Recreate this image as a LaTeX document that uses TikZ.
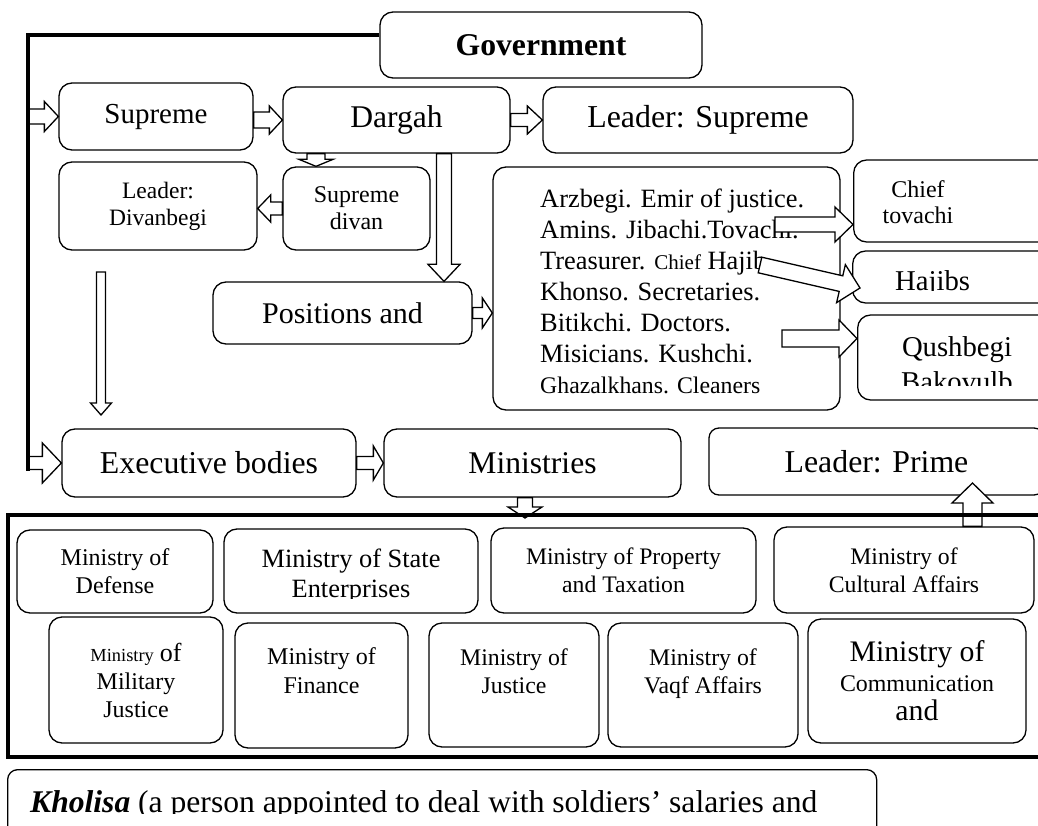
\documentclass[tikz,border=0pt]{standalone}
\usepackage{fontspec}
\setmainfont{Liberation Serif}
\usetikzlibrary{calc}

\newcommand{\fsz}[2]{\fontsize{#1}{#2}\selectfont}
% block arrow: start, end, half shaft, half head, head length
\newcommand{\barrow}[5]{%
  \draw[blockarr] let \p1=(#1), \p2=(#2),
    \n1={atan2(\y2-\y1,\x2-\x1)}, \n2={veclen(\x2-\x1,\y2-\y1)} in
    [shift={(\p1)}, rotate=\n1]
    (0pt,#3) -- (\n2-#5,#3) -- (\n2-#5,#4) -- (\n2,0pt)
    -- (\n2-#5,-#4) -- (\n2-#5,-#3) -- (0pt,-#3) -- cycle;}

\tikzset{
  box/.style={draw, rounded corners=13pt, line width=1.3pt, align=center, inner sep=0pt},
  blockarr/.style={draw, fill=white, line width=1.3pt, line join=miter},
  rail/.style={line width=3.5pt, line join=miter},
}

\begin{document}
\begin{tikzpicture}[x=1pt,y=-1pt]
\useasboundingbox (0,0) rectangle (1038,826);
\clip (0,0) rectangle (1038,826);

% top level
\node[box, minimum width=322pt, minimum height=66pt, font=\bfseries\fsz{31.7}{36}] (gov) at (541,45) {Government};
\node[box, minimum width=194pt, minimum height=67pt, font=\fsz{29}{33}] (sup) at (156,116.5) {Supreme};
\node[box, minimum width=227pt, minimum height=66pt, font=\fsz{31.6}{36}] (dar) at (396.5,120) {Dargah};
\node[box, minimum width=310pt, minimum height=66pt, font=\fsz{31.9}{36}] (lsup) at (698,120) {Leader: Supreme};
\node[box, minimum width=198pt, minimum height=88pt, font=\fsz{23.5}{27}] (div) at (158,206) {Leader:\\Divanbegi};
\node[box, minimum width=147pt, minimum height=83pt, font=\fsz{24}{27}] (sdiv) at (356.5,208.5) {Supreme\\divan};
\node[box, minimum width=259pt, minimum height=62pt, font=\fsz{30}{34}] (pos) at (342.5,313) {Positions and};

% list of positions
\node[box, minimum width=347pt, minimum height=243pt] (lst) at (666.5,288.5) {};
\node[anchor=north west, align=left, inner sep=0pt, font=\fsz{26.4}{31}] (lsttxt) at (540,189)
  {Arzbegi. Emir of justice.\\Amins. Jibachi.Tovachi.\\Treasurer. {\fsz{21}{31}Chief} Hajib\\Khonso. Secretaries.\\Bitikchi. Doctors.\\Misicians. Kushchi.\\{\fsz{23.8}{31}Ghazalkhans. Cleaners}};

% right column
\node[box, minimum width=230pt, minimum height=82pt, anchor=west] (tov) at (853,201) {};
\node[align=center, inner sep=0pt, font=\fsz{24}{26}] (tovtxt) at (918,202) {Chief\\tovachi};
\begin{scope}
  \clip (852,251) rectangle (1038,290);
  \node[anchor=base west, inner sep=0pt, font=\fsz{28.7}{33}] (hajtxt) at (895,290) {Hajibs};
\end{scope}
\node[box, minimum width=230pt, minimum height=52pt, anchor=west] (haj) at (852,277) {};
\begin{scope}
  \clip (857,315) rectangle (1038,385);
  \node[anchor=north, align=center, inner sep=0pt, font=\fsz{28.7}{35}] (qustxt) at (957,336.4) {Qushbegi\\Bakovulb};
\end{scope}
\node[box, minimum width=230pt, minimum height=85pt, anchor=west] (qus) at (857,357.5) {};

% executive level
\node[box, minimum width=294pt, minimum height=68pt, font=\fsz{31.8}{36}] (exe) at (209,463) {Executive bodies};
\node[box, minimum width=297pt, minimum height=68pt, font=\fsz{31.6}{36}] (mins) at (532.5,463) {Ministries};
\node[box, rounded corners=10pt, minimum width=335pt, minimum height=67pt, font=\fsz{31.8}{36}] (pri) at (876.5,461.5) {Leader: Prime};

% ministries, first row
\node[box, minimum width=196pt, minimum height=83pt, font=\fsz{24}{28}] (def) at (115,571.5) {Ministry of\\Defense};
\begin{scope}
  \clip (224,529) rectangle (478,598);
  \node[anchor=north, align=center, inner sep=0pt, font=\fsz{26.4}{30}] (stetxt) at (351,549) {Ministry of State\\Enterprises};
\end{scope}
\node[box, minimum width=254pt, minimum height=84pt] (ste) at (351,571) {};
\node[box, minimum width=265pt, minimum height=85pt, font=\fsz{23.7}{28}] (pro) at (623.5,570.5) {Ministry of Property\\and Taxation};
\node[box, minimum width=260pt, minimum height=86pt, font=\fsz{23.7}{28}] (cul) at (904,570) {Ministry of\\Cultural Affairs};

% ministries, second row
\node[box, minimum width=174pt, minimum height=126pt, font=\fsz{24}{28}] (mil) at (136,680) {{\fsz{18.4}{28}Ministry} {\fsz{26}{28}of}\\Military\\Justice};
\node[box, minimum width=173pt, minimum height=125pt, font=\fsz{24}{29}] (fin) at (321.5,685.5) {Ministry of\\Finance\\\mbox{}};
\node[box, minimum width=170pt, minimum height=124pt, font=\fsz{23.8}{28}] (jus) at (514,685) {Ministry of\\Justice\\\mbox{}};
\node[box, minimum width=190pt, minimum height=124pt, font=\fsz{23.8}{28}] (vaq) at (703,685) {Ministry of\\Vaqf Affairs\\\mbox{}};
\node[box, minimum width=218pt, minimum height=124pt, font=\fsz{29.8}{29.5}] (com) at (917,681) {Ministry of\\{\fsz{23.9}{29.5}Communication}\\and};

% kholisa
\begin{scope}
  \clip (0,760) rectangle (1038,813);
  \node[anchor=base west, inner sep=0pt, font=\fsz{31.6}{36}] (khotxt) at (30,812) {\textbf{\textit{Kholisa}} (a person appointed to deal with soldiers’ salaries and};
\end{scope}
\node[box, rounded corners=10pt, minimum width=869pt, minimum height=80pt, anchor=north west] (kho) at (7,769) {};

% free ends
\coordinate (rtop) at (28,35);
\coordinate (rbot) at (28,471);
\coordinate (dd) at (316,0);
\coordinate (dp) at (444,0);
\coordinate (a7s) at (101,272);
\coordinate (a7e) at (101,415);
\coordinate (mf) at (525,518);
\coordinate (cp) at (972.5,483);
\coordinate (lt) at (775,224.5);
\coordinate (lh) at (760,265);
\coordinate (lq) at (782,338.5);

% block arrows
\barrow{rtop |- sup.west}{sup.west}{7.5pt}{15pt}{14pt}
\barrow{sup.east |- dar.west}{dar.west}{8pt}{14pt}{13pt}
\barrow{dar.east}{lsup.west}{6.5pt}{14pt}{15pt}
\barrow{dd |- dar.south}{dd |- sdiv.north}{9pt}{17pt}{7pt}
\barrow{sdiv.west}{div.east |- sdiv.west}{6.5pt}{13.5pt}{13pt}
\barrow{dp |- dar.south}{dp |- pos.north}{7.5pt}{16pt}{17pt}
\barrow{a7s}{a7e}{4.5pt}{10.5pt}{12pt}
\barrow{pos.east}{lst.west |- pos.east}{5.5pt}{15pt}{10pt}
\barrow{exe.east}{mins.west}{6.5pt}{17pt}{10pt}
\barrow{rtop |- exe.west}{exe.west}{6.5pt}{20pt}{19pt}
\barrow{mf |- mins.south}{mf}{7.5pt}{17pt}{11pt}
\barrow{cp |- cul.north}{cp}{9.5pt}{20.5pt}{20pt}
\barrow{lt}{tov.west |- lt}{7.5pt}{17.5pt}{18pt}
\barrow{lh}{$(haj.west)+(8,11)$}{8pt}{19.5pt}{19.5pt}
\barrow{lq}{qus.west |- lq}{8.5pt}{18.5pt}{18pt}

% rails and frame
\draw[rail] (gov.west |- rtop) -- (rtop) -- (rbot);
\draw[rail] (1040,515) -- (8,515) -- (8,757) -- (1040,757);
\end{tikzpicture}
\end{document}
